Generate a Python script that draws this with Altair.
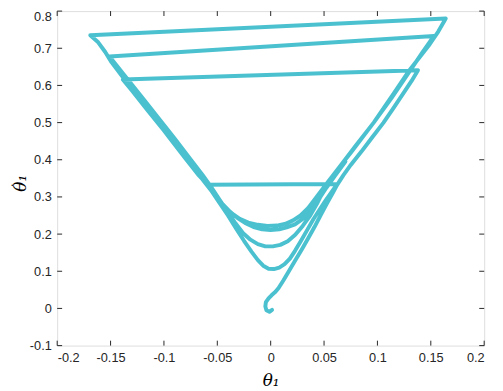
import altair as alt
import pandas as pd

# ---- trajectory (theta1, theta1_dot), in path order ----
# start hook + first rise
seg_a_theta = [0.0013, -0.0012, -0.0040, -0.0050, -0.0045, -0.0020, 0.0010, 0.0045, 0.0074, 0.012,
               0.017, 0.0228, 0.029, 0.035, 0.041, 0.047, 0.053, 0.058, 0.0624, 0.068, 0.075, 0.085,
               0.095, 0.1057, 0.115, 0.125, 0.132, 0.138]
seg_a_rate = [-0.004, -0.009, -0.005, 0.005, 0.017, 0.027, 0.036, 0.045, 0.055, 0.076,
              0.100, 0.128, 0.158, 0.188, 0.219, 0.252, 0.284, 0.310, 0.333, 0.358, 0.386, 0.422,
              0.460, 0.500, 0.539, 0.582, 0.612, 0.641]
# second step
seg_b_theta = [-0.1385, -0.130, -0.115, -0.100, -0.085, -0.072, -0.062, -0.053, -0.045, -0.037,
               -0.029, -0.021, -0.012, -0.003, 0.006, 0.014, 0.021, 0.028, 0.035, 0.043, 0.052,
               0.065, 0.080, 0.0965, 0.113, 0.130, 0.142, 0.153]
seg_b_rate = [0.616, 0.586, 0.532, 0.479, 0.425, 0.378, 0.340, 0.307, 0.280, 0.257,
              0.241, 0.231, 0.225, 0.222, 0.223, 0.228, 0.237, 0.250, 0.270, 0.300, 0.334,
              0.383, 0.439, 0.500, 0.565, 0.637, 0.688, 0.733]
# third step
seg_c_theta = [-0.151, -0.146, -0.135, -0.120, -0.105, -0.090, -0.075, -0.064, -0.056, -0.048,
               -0.040, -0.033, -0.026, -0.019, -0.012, -0.005, 0.002, 0.009, 0.016, 0.023, 0.030,
               0.037, 0.044, 0.052, 0.060, 0.075, 0.0965, 0.115, 0.130, 0.149, 0.157, 0.164]
seg_c_rate = [0.678, 0.660, 0.620, 0.566, 0.512, 0.457, 0.401, 0.360, 0.328, 0.293,
              0.259, 0.229, 0.203, 0.185, 0.173, 0.167, 0.167, 0.171, 0.181, 0.198, 0.222,
              0.250, 0.285, 0.332, 0.364, 0.419, 0.500, 0.577, 0.641, 0.711, 0.745, 0.780]
# fourth step
seg_d_theta = [-0.169, -0.1616, -0.155, -0.149, -0.140, -0.125, -0.110, -0.095, -0.080, -0.068,
               -0.060, -0.050, -0.040, -0.032, -0.025, -0.018, -0.012, -0.007, -0.002, 0.003,
               0.008, 0.013, 0.018, 0.0228, 0.028, 0.034, 0.040, 0.046, 0.052, 0.057, 0.0624]
seg_d_rate = [0.735, 0.716, 0.690, 0.662, 0.628, 0.572, 0.516, 0.460, 0.404, 0.360,
              0.336, 0.293, 0.250, 0.213, 0.182, 0.153, 0.130, 0.115, 0.107, 0.106,
              0.110, 0.119, 0.134, 0.155, 0.180, 0.210, 0.240, 0.267, 0.293, 0.313, 0.335]
# last step
seg_e_theta = [-0.060, -0.052, -0.045, -0.038, -0.031, -0.024, -0.016, -0.008, 0.000, 0.008,
               0.015, 0.0228, 0.030, 0.038, 0.045, 0.052, 0.060, 0.070]
seg_e_rate = [0.333, 0.304, 0.281, 0.260, 0.243, 0.230, 0.219, 0.213, 0.211, 0.213,
              0.218, 0.226, 0.241, 0.264, 0.293, 0.324, 0.356, 0.395]

theta1 = seg_a_theta + seg_b_theta + seg_c_theta + seg_d_theta + seg_e_theta
theta1_dot = seg_a_rate + seg_b_rate + seg_c_rate + seg_d_rate + seg_e_rate

x_ticks = [-0.2, -0.15, -0.1, -0.05, 0, 0.05, 0.1, 0.15, 0.2]
y_ticks = [-0.1, 0, 0.1, 0.2, 0.3, 0.4, 0.5, 0.6, 0.7, 0.8]

x_title = "θ₁"
y_title = "θ₁"
y_title_dot = "˙"

df = pd.DataFrame({"theta": theta1, "rate": theta1_dot, "step": list(range(len(theta1)))})
xt = pd.DataFrame({"t": x_ticks})
yt = pd.DataFrame({"t": y_ticks})

W, H = 434, 340
AX = "#262626"
LINE = "#4BC1D0"
TL = 5
TFONT = "DejaVu Serif"

xscale = alt.Scale(domain=[-0.2, 0.2], nice=False, zero=False)
yscale = alt.Scale(domain=[-0.1, 0.8], nice=False, zero=False)

common_axis = dict(domain=False, ticks=False, tickSize=0, grid=False,
                   labelFont="Liberation Sans", labelFontSize=13, labelColor=AX,
                   labelPadding=6, titleFont=TFONT, titleFontSize=17,
                   titleFontWeight="normal", titleFontStyle="italic", titleColor="#000000",
                   labelExpr="'' + datum.value")
x_axis = alt.Axis(values=x_ticks, title=x_title, titlePadding=9, **common_axis)
y_axis = alt.Axis(values=y_ticks, title=None,
                  labelBaseline=alt.condition("datum.value >= 0.8", alt.value("top"), alt.value("middle")),
                  **common_axis)

line = alt.Chart(df).mark_line(
    color=LINE, strokeWidth=4, strokeCap="round", strokeJoin="round"
).encode(
    x=alt.X("theta:Q", scale=xscale, axis=x_axis),
    y=alt.Y("rate:Q", scale=yscale, axis=y_axis),
    order="step:Q",
)

xb = alt.Chart(xt).mark_rule(color=AX, strokeWidth=1).encode(
    x=alt.X("t:Q", scale=xscale, axis=x_axis), y=alt.value(H), y2=alt.value(H - TL))
xtop = alt.Chart(xt).mark_rule(color=AX, strokeWidth=1).encode(
    x=alt.X("t:Q", scale=xscale, axis=x_axis), y=alt.value(0), y2=alt.value(TL))
yl = alt.Chart(yt).mark_rule(color=AX, strokeWidth=1).encode(
    y=alt.Y("t:Q", scale=yscale, axis=y_axis), x=alt.value(0), x2=alt.value(TL))
yr = alt.Chart(yt).mark_rule(color=AX, strokeWidth=1).encode(
    y=alt.Y("t:Q", scale=yscale, axis=y_axis), x=alt.value(W), x2=alt.value(W - TL))

ytitle = alt.Chart(pd.DataFrame({"s": [y_title]})).mark_text(
    angle=270, align="center", baseline="middle", font=TFONT, fontSize=17,
    fontStyle="italic", color="#000000"
).encode(text="s:N", x=alt.value(-37), y=alt.value(175))
ydot = alt.Chart(pd.DataFrame({"s": [y_title_dot]})).mark_text(
    angle=270, align="center", baseline="middle", font=TFONT, fontSize=13,
    color="#000000"
).encode(text="s:N", x=alt.value(-40), y=alt.value(177))

chart = alt.layer(line, xb, xtop, yl, yr, ytitle, ydot).properties(
    width=W, height=H,
    autosize=alt.AutoSizeParams(type="none"),
    padding={"left": 50, "top": 0, "right": 11, "bottom": 43},
).configure_view(stroke=AX, strokeWidth=1).configure(background="white")

chart.save("out.html", embed_options={"renderer": "svg", "actions": False})
